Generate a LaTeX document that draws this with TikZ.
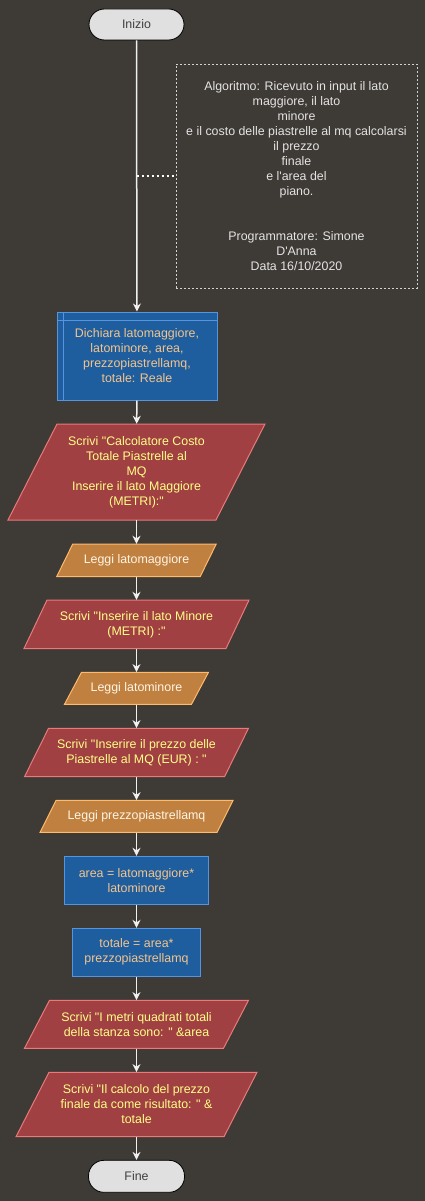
\documentclass[tikz,border=0pt]{standalone}
\usepackage{fontspec}
\newfontfamily\arialf{Liberation Sans}
\usetikzlibrary{arrows.meta}
\definecolor{bgc}{RGB}{62,58,54}
\definecolor{termfill}{RGB}{224,224,224}
\definecolor{termtext}{RGB}{64,64,64}
\definecolor{bluefill}{RGB}{31,94,158}
\definecolor{blueline}{RGB}{84,148,224}
\definecolor{bluetext}{RGB}{244,196,140}
\definecolor{redfill}{RGB}{160,64,66}
\definecolor{redline}{RGB}{232,122,122}
\definecolor{redtext}{RGB}{255,255,136}
\definecolor{orfill}{RGB}{192,128,64}
\definecolor{orline}{RGB}{255,186,106}
\definecolor{ortext}{RGB}{255,246,230}
\definecolor{commtext}{RGB}{228,228,228}
\definecolor{commline}{RGB}{210,210,210}
\definecolor{arrowc}{RGB}{240,240,240}
\newcommand{\flowpara}[8]{%
  \path[#1shape] ({#3-#5/2-#7/2},{#4+#6/2}) -- ({#3+#5/2-#7/2},{#4+#6/2})
     -- ({#3+#5/2+#7/2},{#4-#6/2}) -- ({#3-#5/2+#7/2},{#4-#6/2}) -- cycle;
  \node[#1text, minimum width=#5pt, minimum height=#6pt] (#2) at (#3,#4) {#8};}
\begin{document}
\begin{tikzpicture}[x=1pt,y=-1pt,
  basefont/.style={font=\arialf\fontsize{12.4}{15}\selectfont, align=center, inner sep=0pt},
  term/.style={basefont, draw=black, line width=0.8pt, fill=termfill, text=termtext, rounded corners=15.5pt},
  procbox/.style={basefont, draw=blueline, line width=1pt, fill=bluefill, text=bluetext},
  wrshape/.style={draw=redline, line width=1pt, fill=redfill},
  wrtext/.style={basefont, text=redtext},
  rdshape/.style={draw=orline, line width=1pt, fill=orfill},
  rdtext/.style={basefont, text=ortext},
  commbox/.style={basefont, draw=commline, line width=0.7pt, dash pattern=on 2pt off 2pt, text=commtext},
  flow/.style={draw=arrowc, line width=1.5pt, -{Stealth[length=8pt,width=8pt,inset=2.5pt]}},
  commlink/.style={draw=white, line width=2pt, dash pattern=on 2pt off 3pt}
]
\useasboundingbox (0,0) rectangle (425,1201);
\fill[bgc] (0,0) rectangle (425,1201);

\node[term, minimum width=95pt, minimum height=31pt] (inizio) at (136.5,24.5) {Inizio};
\node[commbox, minimum width=241pt, minimum height=224pt] (comm) at (296.5,176)
  {Algoritmo: Ricevuto in input il lato\\maggiore, il lato\\minore\\e il costo delle piastrelle al mq calcolarsi\\il prezzo\\finale\\e l'area del\\piano.\\[30pt]Programmatore: Simone\\D'Anna\\Data 16/10/2020};
\node[procbox, minimum width=160pt, minimum height=88pt] (dich) at (137,356)
  {Dichiara latomaggiore,\\latominore, area,\\prezzopiastrellamq,\\totale: Reale};
\draw[draw=blueline, line width=1pt] ([xshift=7pt]dich.north west) -- ([xshift=7pt]dich.south west);
\draw[draw=blueline, line width=1pt] ([yshift=-9pt]dich.north west) -- ([yshift=-9pt]dich.north east);

\flowpara{wr}{s1}{136.5}{472}{208}{96}{49}{Scrivi "Calcolatore Costo\\Totale Piastrelle al\\MQ\\Inserire il lato Maggiore\\(METRI):"}
\flowpara{rd}{l1}{136.5}{560.25}{143.5}{32.5}{16}{Leggi latomaggiore}
\flowpara{wr}{s2}{136.5}{624.3}{202}{48.5}{23}{Scrivi "Inserire il lato Minore\\(METRI) :"}
\flowpara{rd}{l2}{136.5}{688.3}{127}{32}{17}{Leggi latominore}
\flowpara{wr}{s3}{136.5}{752.5}{200}{48.4}{24}{Scrivi "Inserire il prezzo delle\\Piastrelle al MQ (EUR) : "}
\flowpara{rd}{l3}{136.5}{816.4}{177}{32}{16}{Leggi prezzopiastrellamq}
\node[procbox, minimum width=144.4pt, minimum height=48.4pt] (area) at (136.5,880.5)
  {area = latomaggiore*\\latominore};
\node[procbox, minimum width=128.4pt, minimum height=47.7pt] (tot) at (136.5,952.2)
  {totale = area*\\prezzopiastrellamq};
\flowpara{wr}{s4}{136.5}{1024.3}{199}{48}{25}{Scrivi "I metri quadrati totali\\della stanza sono: " \&area}
\flowpara{wr}{s5}{136.5}{1104.5}{208}{64.4}{33}{Scrivi "Il calcolo del prezzo\\finale da come risultato: " \&\\totale}
\node[term, minimum width=96pt, minimum height=32pt] (fine) at (136.5,1176.3) {Fine};

\draw[flow] (inizio) -- (dich);
\draw[commlink] (comm.west -| inizio.south) -- (comm.west);
\draw[flow] (dich) -- (s1);
\draw[flow] (s1) -- (l1);
\draw[flow] (l1) -- (s2);
\draw[flow] (s2) -- (l2);
\draw[flow] (l2) -- (s3);
\draw[flow] (s3) -- (l3);
\draw[flow] (l3) -- (area);
\draw[flow] (area) -- (tot);
\draw[flow] (tot) -- (s4);
\draw[flow] (s4) -- (s5);
\draw[flow] (s5) -- (fine);
\end{tikzpicture}
\end{document}
